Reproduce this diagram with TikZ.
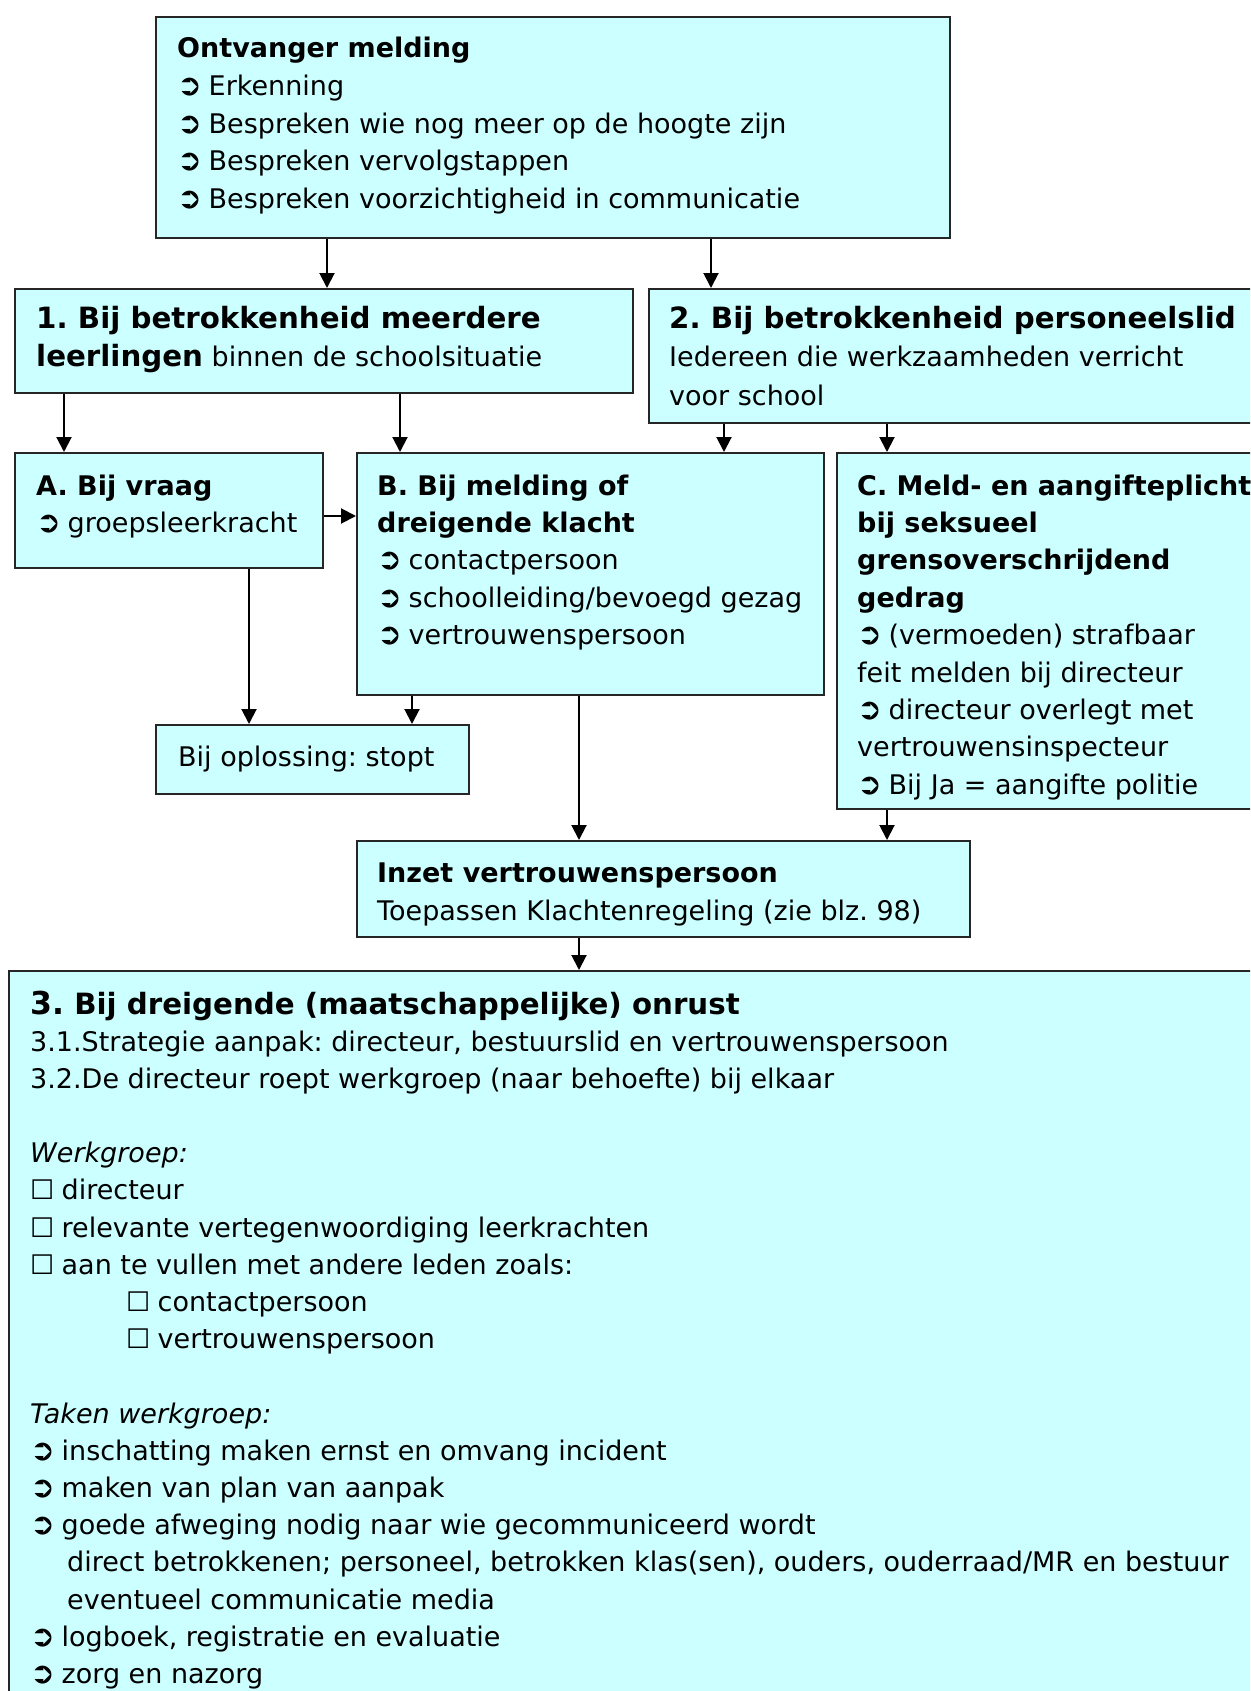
\documentclass[tikz,border=0pt]{standalone}
\usepackage{fontspec}
\setmainfont{DejaVu Sans}
\usetikzlibrary{arrows.meta}
\frenchspacing

\definecolor{vakkleur}{HTML}{CCFFFF}
\newcommand\pijl{\makebox[31.5pt][l]{\scalebox{1.1}{\bfseries ➲}}}
\newcommand\vakje{\makebox[31.5pt][l]{☐}}
\newcommand\kopfont{\fontsize{29.3}{38.5}\selectfont\bfseries}

\tikzset{
  vak/.style={draw=black!85, line width=2pt, fill=vakkleur, anchor=north west, inner sep=0pt},
  tekst/.style={anchor=north west, align=left, inner sep=0pt, font=\fontsize{27}{37.4}\selectfont},
  pijlkop/.style={-{Triangle[length=15pt,width=15pt]}, line width=2pt},
}

\begin{document}
\begin{tikzpicture}[x=1pt,y=-1pt]
		\useasboundingbox (0,0) rectangle (1250,1691);
		\clip (0,0) rectangle (1250,1691);
		% vakken
		\node [vak,minimum width=794pt,minimum height=221pt] (ontvanger) at (155,16) {};
		\node [vak,minimum width=618pt,minimum height=104pt] (leerlingen) at (14,288) {};
		\node [vak,minimum width=620pt,minimum height=134pt] (personeel) at (648,288) {};
		\node [vak,minimum width=308pt,minimum height=115pt] (vraag) at (14,452) {};
		\node [vak,minimum width=467pt,minimum height=242pt] (melding) at (356,452) {};
		\node [vak,minimum width=430pt,minimum height=356pt] (meldplicht) at (836,452) {};
		\node [vak,minimum width=313pt,minimum height=69pt] (oplossing) at (155,724) {};
		\node [vak,minimum width=613pt,minimum height=96pt] (inzet) at (356,840) {};
		\node [vak,minimum width=1260pt,minimum height=740pt] (onrust) at (8,970) {};
		% teksten
		\node [tekst,font=\fontsize{27}{37.6}\selectfont] (t-ontvanger) at (177,31.3) {\strut\textbf{Ontvanger melding}\\
			\pijl Erkenning\\
			\pijl Bespreken wie nog meer op de hoogte zijn\\
			\pijl Bespreken vervolgstappen\\
			\pijl Bespreken voorzichtigheid in communicatie};
		\node [tekst,font=\fontsize{27}{38.5}\selectfont] (t-leerlingen) at (36,301) {\strut{\kopfont 1. Bij betrokkenheid meerdere}\\
			{\kopfont leerlingen} binnen de schoolsituatie};
		\node [tekst,font=\fontsize{27}{38.5}\selectfont] (t-personeel) at (669,301) {\strut{\kopfont 2. Bij betrokkenheid personeelslid}\\
			Iedereen die werkzaamheden verricht\\
			voor school};
		\node [tekst] (t-vraag) at (36,468.8) {\strut\textbf{A. Bij vraag}\\
			\pijl groepsleerkracht};
		\node [tekst] (t-melding) at (377,468.8) {\strut\textbf{B. Bij melding of}\\
			\textbf{dreigende klacht}\\
			\pijl contactpersoon\\
			\pijl schoolleiding/bevoegd gezag\\
			\pijl vertrouwenspersoon};
		\node [tekst] (t-meldplicht) at (857,468.8) {\strut\textbf{C. Meld- en aangifteplicht}\\
			\textbf{bij seksueel}\\
			\textbf{grensoverschrijdend}\\
			\textbf{gedrag}\\
			\pijl (vermoeden) strafbaar\\
			feit melden bij directeur\\
			\pijl directeur overlegt met\\
			vertrouwensinspecteur\\
			\pijl Bij Ja = aangifte politie};
		\node [tekst] (t-oplossing) at (178,739.8) {\strut Bij oplossing: stopt};
		\node [tekst] (t-inzet) at (377,856.4) {\strut\textbf{Inzet vertrouwenspersoon}\\
			Toepassen Klachtenregeling (zie blz. 98)};
		\node [tekst,font=\kopfont] (t-onrust) at (30,987.4) {\strut{\fontsize{31.5}{38.5}\selectfont 3.} Bij dreigende (maatschappelijke) onrust};
		\node [tekst,font=\fontsize{27}{37.2}\selectfont] (t-werkgroep) at (30,1024.8) {\strut 3.1.Strategie aanpak: directeur, bestuurslid en vertrouwenspersoon\\
			3.2.De directeur roept werkgroep (naar behoefte) bij elkaar\\
			\mbox{}\\
			\textit{Werkgroep:}\\
			\vakje directeur\\
			\vakje relevante vertegenwoordiging leerkrachten\\
			\vakje aan te vullen met andere leden zoals:\\
			\hspace*{96pt}\vakje contactpersoon\\
			\hspace*{96pt}\vakje vertrouwenspersoon\\
			\mbox{}\\
			\textit{Taken werkgroep:}\\
			\pijl inschatting maken ernst en omvang incident\\
			\pijl maken van plan van aanpak\\
			\pijl goede afweging nodig naar wie gecommuniceerd wordt\\
			\hspace*{37pt}direct betrokkenen; personeel, betrokken klas(sen), ouders, ouderraad/MR en bestuur\\
			\hspace*{37pt}eventueel communicatie media\\
			\pijl logboek, registratie en evaluatie\\
			\pijl zorg en nazorg};
		% pijlen
		\draw [pijlkop] (ontvanger.south -| 327,0) -- (leerlingen.north -| 327,0);
		\draw [pijlkop] (ontvanger.south -| 711,0) -- (personeel.north -| 711,0);
		\draw [pijlkop] (leerlingen.south -| 64,0) -- (vraag.north -| 64,0);
		\draw [pijlkop] (leerlingen.south -| 400,0) -- (melding.north -| 400,0);
		\draw [pijlkop] (personeel.south -| 724,0) -- (melding.north -| 724,0);
		\draw [pijlkop] (personeel.south -| 887,0) -- (meldplicht.north -| 887,0);
		\draw [pijlkop] (vraag.east |- 0,516) -- (melding.west |- 0,516);
		\draw [pijlkop] (vraag.south -| 249,0) -- (oplossing.north -| 249,0);
		\draw [pijlkop] (melding.south -| 412,0) -- (oplossing.north -| 412,0);
		\draw [pijlkop] (melding.south -| 579,0) -- (inzet.north -| 579,0);
		\draw [pijlkop] (meldplicht.south -| 887,0) -- (inzet.north -| 887,0);
		\draw [pijlkop] (inzet.south -| 579,0) -- (onrust.north -| 579,0);
\end{tikzpicture}
\end{document}
